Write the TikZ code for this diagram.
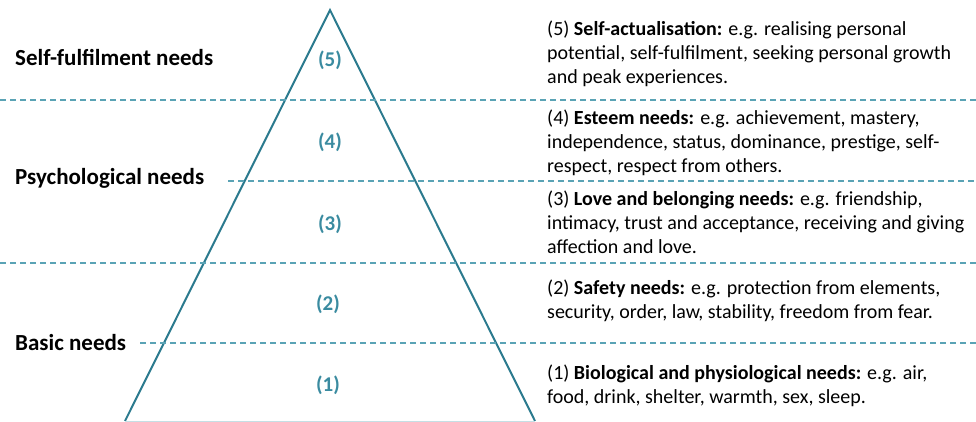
\documentclass[tikz,border=0pt]{standalone}
\usepackage{fontspec}
\setmainfont{Carlito}
\usetikzlibrary{positioning}
\definecolor{pyrline}{HTML}{2B7A8E}
\definecolor{pyrdash}{HTML}{5AA3B5}
\definecolor{pyrnum}{HTML}{3A8BA0}
\begin{document}
\begin{tikzpicture}[x=1pt,y=-1pt,
level/.style={
% left hand labels:
anchor=west,inner sep=0pt,
font=\fontsize{23}{26}\selectfont\bfseries
},
number/.style={
inner sep=0pt,text=pyrnum,
font=\fontsize{21}{24}\selectfont\bfseries
},
info/.style={
anchor=north west,inner sep=0pt,align=left,
font=\fontsize{20}{24}\selectfont
},
sep/.style={
draw=pyrdash,line width=1.2pt,dash pattern=on 6pt off 4pt
}
]
\useasboundingbox (0,0) rectangle (976,421);
% The pyramid:
\coordinate (apex) at (330,10);
\coordinate (bl) at (125,421);
\coordinate (br) at (535,421);
\draw[pyrline,line width=2pt] (bl) -- (apex) -- (br);
\draw[pyrdash!35,line width=0.8pt] (bl) -- (br);
% Levels:
\node (self) [level] at (15,57) {Self-fulfilment needs};
\node (psych) [level] at (15,178) {Psychological needs};
\node (basic) [level] at (15,343) {Basic needs};
\coordinate (d5) at (0,100);  \coordinate (e5) at (976,100);
\coordinate (d4) at (228,181); \coordinate (e4) at (976,181);
\coordinate (d3) at (0,263);  \coordinate (e3) at (976,263);
\coordinate (d2) at (140,343); \coordinate (e2) at (976,343);
\draw[sep] (d5) -- (e5);
\draw[sep] (d4) -- (e4);
\draw[sep] (d3) -- (e3);
\draw[sep] (d2) -- (e2);
\node (n5) [number] at (330,60) {(5)};
\node (n4) [number] at (330,142) {(4)};
\node (n3) [number] at (330,224) {(3)};
\node (n2) [number] at (328,304) {(2)};
\node (n1) [number] at (328,385) {(1)};
% Descriptions:
\node (actual) [info] at (547,21) {(5) \textbf{Self-actualisation:} e.g. realising personal\\potential, self-fulfilment, seeking personal growth\\and peak experiences.};
\node (esteem) [info] at (547,110) {(4) \textbf{Esteem needs:} e.g. achievement, mastery,\\independence, status, dominance, prestige, self-\\respect, respect from others.};
\node (love) [info] at (547,191) {(3) \textbf{Love and belonging needs:} e.g. friendship,\\intimacy, trust and acceptance, receiving and giving\\affection and love.};
\node (safety) [info] at (547,280) {(2) \textbf{Safety needs:} e.g. protection from elements,\\security, order, law, stability, freedom from fear.};
\node (bio) [info] at (547,365) {(1) \textbf{Biological and physiological needs:} e.g. air,\\food, drink, shelter, warmth, sex, sleep.};
\end{tikzpicture}
\end{document}
